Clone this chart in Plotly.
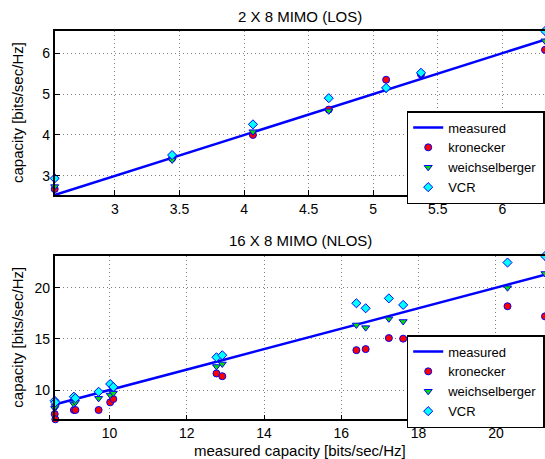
import plotly.graph_objects as go

# ---- top panel: 2 X 8 MIMO (LOS)
los_measured = [2.534, 3.443, 4.069, 4.656, 5.10, 5.37, 6.33]
los_kron = [2.68, 3.43, 4.00, 4.62, 5.35, 5.48, 6.08]
los_weich = [2.74, 3.39, 4.08, 4.59, 5.12, 5.47, 6.30]
los_vcr = [2.94, 3.51, 4.26, 4.90, 5.15, 5.52, 6.54]

# ---- bottom panel: 16 X 8 MIMO (NLOS)
nlos_measured = [8.584, 8.60, 9.08, 9.12, 9.72, 10.02, 10.10, 12.77, 12.92,
                 16.39, 16.63, 17.23, 17.60, 20.30, 21.27]
nlos_kron = [7.65, 7.14, 8.05, 8.05, 8.05, 8.80, 9.12, 11.62, 11.35,
             13.90, 14.00, 15.08, 15.02, 18.19, 17.20]
nlos_weich = [8.21, 8.40, 8.63, 8.80, 9.19, 9.51, 9.70, 12.30, 12.55,
              16.36, 16.10, 16.96, 16.70, 20.00, 21.39]
nlos_vcr = [8.96, 8.80, 9.35, 9.20, 9.83, 10.59, 10.30, 13.20, 13.40,
            18.48, 17.99, 18.96, 18.32, 22.46, 23.10]

FONT = "Liberation Sans, Arial, Helvetica, sans-serif"
W, H = 545, 459

fig = go.Figure()

def add_panel(mx, kr, we, vc, xa, ya, leg):
    fig.add_trace(go.Scatter(x=mx, y=mx, mode="lines", name="measured",
                             line=dict(color="#0000ff", width=2.5),
                             xaxis=xa, yaxis=ya, legend=leg))
    fig.add_trace(go.Scatter(x=mx, y=kr, mode="markers", name="kronecker", cliponaxis=False,
                             marker=dict(symbol="circle", size=7, color="#ff0000",
                                         line=dict(color="#0000ff", width=1)),
                             xaxis=xa, yaxis=ya, legend=leg))
    fig.add_trace(go.Scatter(x=mx, y=we, mode="markers", name="weichselberger", cliponaxis=False,
                             marker=dict(symbol="triangle-down", size=7, color="#00e000",
                                         line=dict(color="#0000ff", width=1)),
                             xaxis=xa, yaxis=ya, legend=leg))
    fig.add_trace(go.Scatter(x=mx, y=vc, mode="markers", name="VCR", cliponaxis=False,
                             marker=dict(symbol="diamond", size=7, color="#00ffff",
                                         line=dict(color="#0000ff", width=1)),
                             xaxis=xa, yaxis=ya, legend=leg))

add_panel(los_measured, los_kron, los_weich, los_vcr, "x", "y", "legend")
add_panel(nlos_measured, nlos_kron, nlos_weich, nlos_vcr, "x2", "y2", "legend2")

x0 = 54.7 / W
axis_common = dict(showline=True, linecolor="black", linewidth=1.6,
                   ticks="inside", ticklen=5, tickcolor="black",
                   showgrid=True, gridcolor="#808080", griddash="1px,3px", gridwidth=1,
                   zeroline=False, tickfont=dict(family=FONT, size=14, color="black"))

def py(p):
    return 1 - p / H

legend_common = dict(xanchor="left", yanchor="top",
                     bgcolor="white", bordercolor="black", borderwidth=1.5,
                     font=dict(family=FONT, size=13, color="black"),
                     tracegroupgap=0, itemwidth=30)

fig.update_layout(
    width=W, height=H, margin=dict(l=0, r=0, t=0, b=0),
    paper_bgcolor="white", plot_bgcolor="white",
    font=dict(family=FONT, size=13, color="black"),
    xaxis=dict(domain=[x0, 1.0], range=[2.534, 6.33], anchor="y", mirror=True,
               tickvals=[3, 3.5, 4, 4.5, 5, 5.5, 6], ticktext=["3", "3.5", "4", "4.5", "5", "5.5", "6"],
               **axis_common),
    yaxis=dict(domain=[py(195), py(31)], range=[2.534, 6.54], anchor="x",
               tickvals=[3, 4, 5, 6], **axis_common),
    xaxis2=dict(domain=[x0, 1.0], range=[8.584, 21.27], anchor="y2", mirror=True,
                tickvals=[10, 12, 14, 16, 18, 20], **axis_common),
    yaxis2=dict(domain=[py(419.3), py(256)], range=[7.14, 23.1], anchor="x2",
                tickvals=[10, 15, 20], **axis_common),
    legend=dict(x=406.7 / W, y=py(111), **legend_common),
    legend2=dict(x=406.7 / W, y=py(335), **legend_common),
    showlegend=True,
)

ann = [
    dict(text="2 X 8 MIMO (LOS)", x=300 / W, y=py(16), xref="paper", yref="paper",
         showarrow=False, font=dict(family=FONT, size=15), xanchor="center", yanchor="middle"),
    dict(text="16 X 8 MIMO (NLOS)", x=300 / W, y=py(240), xref="paper", yref="paper",
         showarrow=False, font=dict(family=FONT, size=15), xanchor="center", yanchor="middle"),
    dict(text="measured capacity [bits/sec/Hz]", x=300 / W, y=py(450), xref="paper", yref="paper",
         showarrow=False, font=dict(family=FONT, size=15), xanchor="center", yanchor="middle",
         borderpad=0),
    dict(text="capacity [bits/sec/Hz]", x=18 / W, y=py(113), xref="paper", yref="paper",
         showarrow=False, textangle=-90, font=dict(family=FONT, size=15),
         xanchor="center", yanchor="middle"),
    dict(text="capacity [bits/sec/Hz]", x=18 / W, y=py(337.7), xref="paper", yref="paper",
         showarrow=False, textangle=-90, font=dict(family=FONT, size=15),
         xanchor="center", yanchor="middle"),
]
fig.update_layout(annotations=ann)

fig.write_html("out.html", config={"displayModeBar": False},
               post_script="document.body.style.margin='0';document.body.style.overflow='hidden';")
